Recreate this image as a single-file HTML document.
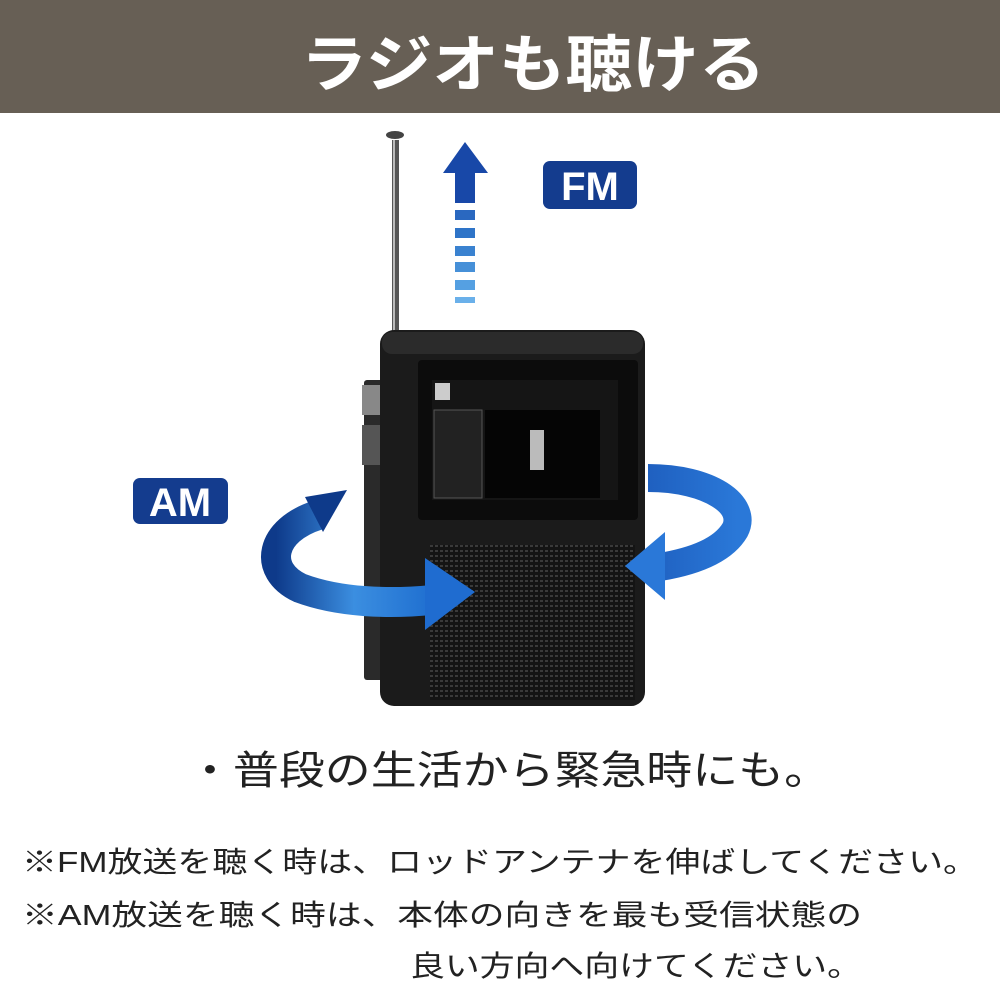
<!DOCTYPE html>
<html><head><meta charset="utf-8"><style>
html,body{margin:0;padding:0;background:#fff;width:1000px;height:1000px;overflow:hidden}
</style></head><body>
<svg width="1000" height="1000" viewBox="0 0 1000 1000" xmlns="http://www.w3.org/2000/svg" font-family="'Liberation Sans','Noto Sans CJK JP',sans-serif">
<defs>
<linearGradient id="ag" x1="0" y1="0" x2="1" y2="0"><stop offset="0" stop-color="#0e3a8a"/><stop offset="0.5" stop-color="#3b8ee0"/><stop offset="1" stop-color="#1f6fd0"/></linearGradient>
<linearGradient id="rg" x1="0" y1="0" x2="1" y2="0"><stop offset="0" stop-color="#1f60c0"/><stop offset="1" stop-color="#2a78d8"/></linearGradient>
<pattern id="grill" width="5" height="5" patternUnits="userSpaceOnUse"><rect width="5" height="5" fill="#141414"/><rect width="3" height="2" fill="#3a3a3a"/></pattern>
</defs>
<rect x="0" y="0" width="1000" height="113" fill="#675f55"/>
<text x="533" y="86" font-size="62" font-weight="bold" fill="#fff" text-anchor="middle" textLength="465" lengthAdjust="spacingAndGlyphs">ラジオも聴ける</text>

<rect x="392" y="140" width="7" height="195" fill="#555"/>
<rect x="393" y="140" width="2" height="195" fill="#bbb"/>
<ellipse cx="395" cy="135" rx="9" ry="4" fill="#444"/>

<rect x="364" y="380" width="22" height="300" rx="3" fill="#2a2a2a"/>
<rect x="362" y="385" width="20" height="30" fill="#888"/>
<rect x="362" y="425" width="20" height="40" fill="#555"/>
<rect x="380" y="330" width="265" height="376" rx="14" fill="#1b1b1b"/>
<rect x="382" y="332" width="261" height="22" rx="10" fill="#2b2b2b"/>
<rect x="418" y="360" width="220" height="160" rx="4" fill="#0c0c0c"/>
<rect x="432" y="380" width="186" height="120" fill="#151515"/>
<rect x="434" y="410" width="48" height="88" fill="#222" stroke="#555"/>
<rect x="485" y="410" width="115" height="88" fill="#050505"/>
<rect x="530" y="430" width="14" height="40" fill="#bbb"/>
<rect x="435" y="383" width="15" height="17" fill="#ccc"/>
<rect x="430" y="545" width="205" height="155" fill="url(#grill)"/>

<polygon points="465,142 488,173 475,173 475,203 455,203 455,173 443,173" fill="#1848a8"/>
<rect x="455" y="210" width="20" height="10" fill="#2a68c0"/>
<rect x="455" y="228" width="20" height="10" fill="#2e74c8"/>
<rect x="455" y="246" width="20" height="10" fill="#3a82d0"/>
<rect x="455" y="262" width="20" height="10" fill="#4690d8"/>
<rect x="455" y="280" width="20" height="10" fill="#55a0e2"/>
<rect x="455" y="297" width="20" height="6" fill="#6ab0ea"/>

<rect x="543" y="161" width="94" height="48" rx="7" fill="#143c8e"/>
<text x="590" y="200" font-size="40" font-weight="bold" fill="#fff" text-anchor="middle">FM</text>
<rect x="133" y="478" width="95" height="46" rx="7" fill="#143c8e"/>
<text x="180" y="516" font-size="40" font-weight="bold" fill="#fff" text-anchor="middle">AM</text>

<!-- left curved arrow -->
<path d="M318,515 C270,530 262,570 300,588 C340,603 390,604 432,600" fill="none" stroke="url(#ag)" stroke-width="30"/>
<polygon points="425,558 475,592 425,630" fill="#1f6cd0"/>
<polygon points="305,497 347,490 323,532" fill="#0e3a8a"/>

<!-- right curved arrow -->
<path d="M648,478 C710,478 748,505 735,530 C722,552 690,562 660,567" fill="none" stroke="url(#rg)" stroke-width="28"/>
<polygon points="665,532 625,566 665,600" fill="#2a78d8"/>

<text x="187" y="784" font-size="40" fill="#222" textLength="643" lengthAdjust="spacingAndGlyphs">・普段の生活から緊急時にも。</text>
<text x="22" y="872" font-size="29" fill="#222" textLength="956" lengthAdjust="spacingAndGlyphs">※FM放送を聴く時は、ロッドアンテナを伸ばしてください。</text>
<text x="22" y="925" font-size="29" fill="#222" textLength="840" lengthAdjust="spacingAndGlyphs">※AM放送を聴く時は、本体の向きを最も受信状態の</text>
<text x="410" y="976" font-size="29" fill="#222" textLength="452" lengthAdjust="spacingAndGlyphs">良い方向へ向けてください。</text>
</svg>
</body></html>
